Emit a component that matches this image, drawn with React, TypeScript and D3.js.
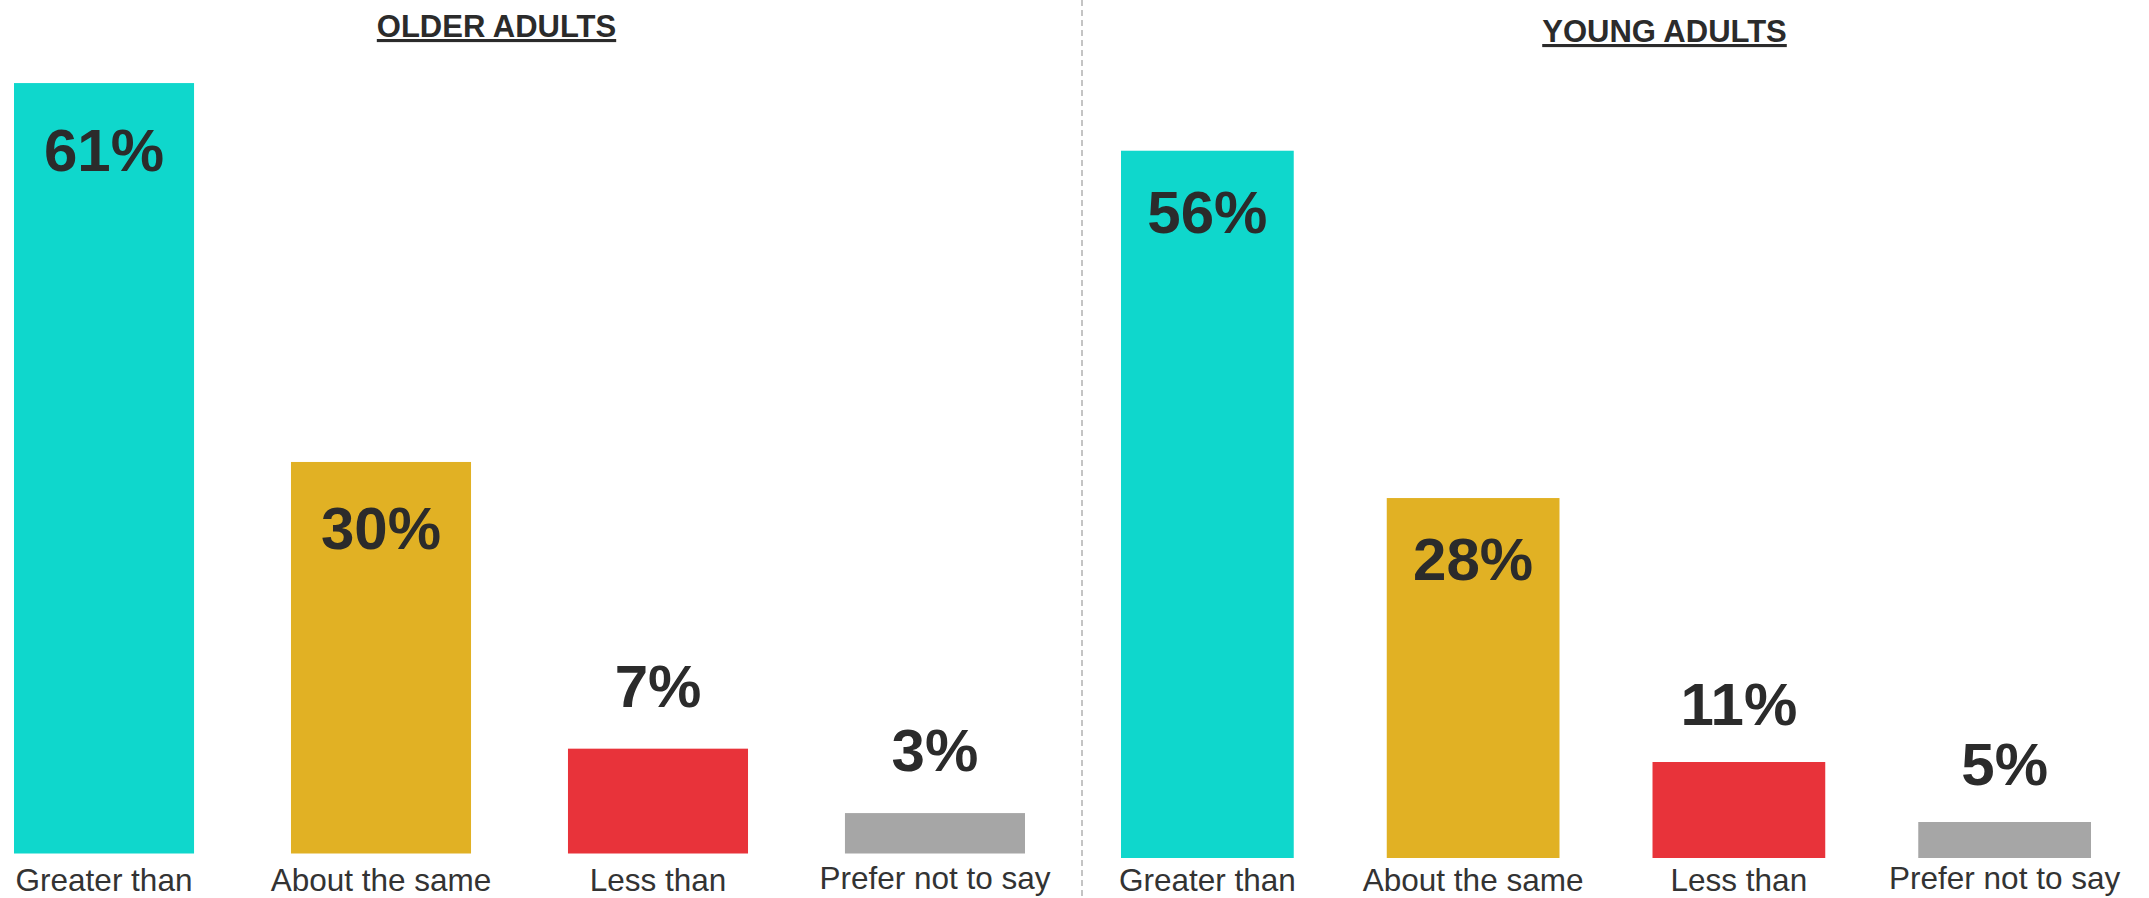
import React from "react";
import * as d3 from "d3";

// Categories shown under each bar
const categories = ["Greater than", "About the same", "Less than", "Prefer not to say"];
const barColors = ["#0fd7cc", "#e1b124", "#e8333a", "#a6a6a6"];

// Printed percentages
const olderValues = [61, 30, 7, 3];
const youngValues = [56, 28, 11, 5];

// Bar lengths as drawn in the picture (in % units)
const olderBarLengths = [61, 31, 8.3, 3.2];
const youngBarLengths = [56, 28.5, 7.6, 2.85];

const panelTitles = ["OLDER ADULTS", "YOUNG ADULTS"];

const W = 2149;
const H = 898;
const FONT = "'Liberation Sans', Arial, Helvetica, sans-serif";
const TEXT = "#2b2b2b";
const PX_PER_PCT = 12.63;

type Panel = {
  title: string;
  values: number[];
  lengths: number[];
  x0: number;
  x1: number;
  bottom: number;
  titleX: number;
  titleY: number;
  insideOffset: number;
  aboveOffset: number;
  catY: number;
};

const panels: Panel[] = [
  {
    title: panelTitles[0],
    values: olderValues,
    lengths: olderBarLengths,
    x0: 14,
    x1: 1025,
    bottom: 853.5,
    titleX: 496.5,
    titleY: 37,
    insideOffset: 87.5,
    aboveOffset: 42,
    catY: 890.5,
  },
  {
    title: panelTitles[1],
    values: youngValues,
    lengths: youngBarLengths,
    x0: 1121,
    x1: 2091,
    bottom: 858,
    titleX: 1664.5,
    titleY: 42,
    insideOffset: 82,
    aboveOffset: 37,
    catY: 891,
  },
];

function PanelView({ p }: { p: Panel }) {
  const x = d3.scaleBand<string>().domain(categories).range([p.x0, p.x1]).paddingInner(0.35).paddingOuter(0);
  const y = d3
    .scaleLinear()
    .domain([0, 100])
    .range([p.bottom, p.bottom - 100 * PX_PER_PCT]);
  const bw = x.bandwidth();
  return (
    <g>
      <text
        x={p.titleX}
        y={p.titleY}
        textAnchor="middle"
        fontFamily={FONT}
        fontWeight="bold"
        fontSize={31}
        fill={TEXT}
        style={{ textDecoration: "underline" }}
      >
        {p.title}
      </text>
      {categories.map((c, i) => {
        const top = y(p.lengths[i]);
        const h = p.bottom - top;
        const cx = (x(c) as number) + bw / 2;
        const inside = h > 150;
        const ly = inside ? top + p.insideOffset : top - p.aboveOffset;
        return (
          <g key={c}>
            <rect x={x(c)} y={top} width={bw} height={h} fill={barColors[i]} />
            <text
              x={cx}
              y={ly}
              textAnchor="middle"
              fontFamily={FONT}
              fontWeight="bold"
              fontSize={60}
              fill={TEXT}
            >
              {p.values[i] + "%"}
            </text>
            <text
              x={cx}
              y={p.catY - (i === 3 ? 2 : 0)}
              textAnchor="middle"
              fontFamily={FONT}
              fontSize={31.5}
              fill="#333333"
            >
              {c}
            </text>
          </g>
        );
      })}
    </g>
  );
}

export default function App() {
  return (
    <svg
      width={W}
      height={H}
      viewBox={`0 0 ${W} ${H}`}
      style={{ position: "absolute", left: 0, top: 0, background: "#ffffff" }}
    >
      <rect x={0} y={0} width={W} height={H} fill="#ffffff" />
      <line x1={1082} x2={1082} y1={0} y2={H} stroke="#c4c4c4" strokeWidth={2} strokeDasharray="6 4" />
      {panels.map((p) => (
        <PanelView key={p.title} p={p} />
      ))}
    </svg>
  );
}
